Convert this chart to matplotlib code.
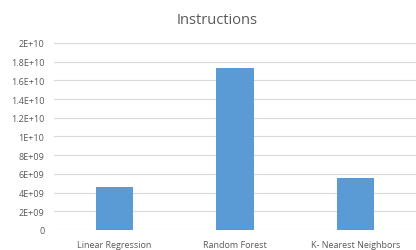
import matplotlib
matplotlib.use('Agg')
import matplotlib.pyplot as plt
from matplotlib.ticker import FuncFormatter, MultipleLocator

models = ['Linear Regression', 'Random Forest', 'K- Nearest Neighbors']
instructions = [4.6e9, 1.733e10, 5.55e9]

plt.rcParams['font.family'] = ['Open Sans', 'DejaVu Sans']


def excel_fmt(v, pos):
    if v == 0:
        return '0'
    s = '%.1E' % v
    mant, exp = s.split('E')
    mant = mant.rstrip('0').rstrip('.')
    return '%sE+%02d' % (mant, int(exp))


fig = plt.figure(figsize=(4.16, 2.51), dpi=100)
ax = fig.add_axes([0.13, 0.08, 0.87, 0.745])
ax.bar(models, instructions, width=0.31, color='#5b9bd5', zorder=3)
ax.set_ylim(0, 2e10)
ax.set_xlim(-0.5, 2.5)
ax.yaxis.set_major_locator(MultipleLocator(2e9))
ax.yaxis.set_major_formatter(FuncFormatter(excel_fmt))
ax.grid(axis='y', color='#d9d9d9', linewidth=0.8, zorder=0)
for s in ax.spines.values():
    s.set_visible(False)
ax.tick_params(axis='both', length=0, labelsize=6.5, colors='#595959')
ax.tick_params(axis='y', pad=7)
ax.tick_params(axis='x', pad=7)
fig.text(0.522, 0.92, 'Instructions', fontsize=10.5, color='#595959',
         ha='center', va='center')
fig.savefig('out.png', dpi=100)
